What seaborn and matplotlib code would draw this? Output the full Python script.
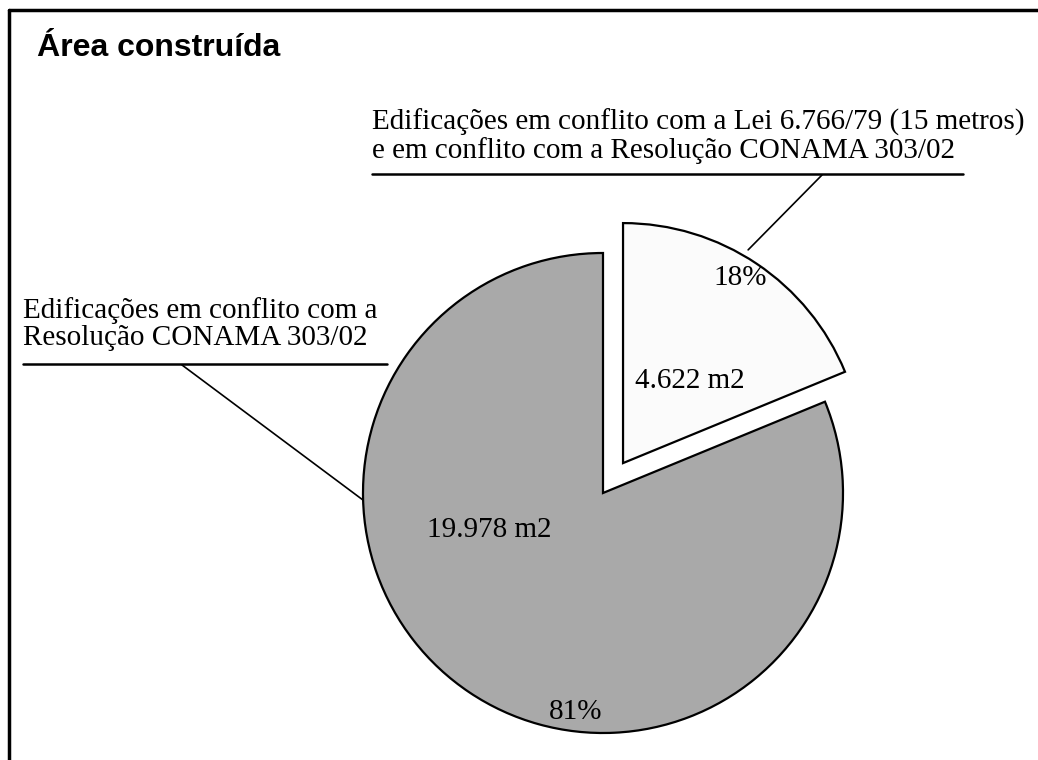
import numpy as np
import seaborn as sns
import matplotlib.pyplot as plt
from matplotlib.lines import Line2D

sns.set_theme(style='white')

# data
labels = ['Edificações em conflito com a Lei 6.766/79 (15 metros)\ne em conflito com a Resolução CONAMA 303/02',
          'Edificações em conflito com a\nResolução CONAMA 303/02']
areas = [4622, 19978]
area_text = ['4.622 m2', '19.978 m2']
pct_text = ['18%', '81%']
colors = ['#fbfbfb', '#a9a9a9']
explode = [0.15, 0]

W, H = 1038, 760
fig = plt.figure(figsize=(W / 100, H / 100), dpi=100)
ax = fig.add_axes([0, 0, 1, 1])

# pie centre / radius in pixels, so annotations can be placed by pixel
cx, cy, R = 603, 493, 240


def px(x, y):
    return ((x - cx) / R, (cy - y) / R)


wedges, _ = ax.pie(areas, colors=colors, explode=explode, startangle=90,
                   counterclock=False, radius=1,
                   wedgeprops=dict(edgecolor='black', linewidth=1.6))

ax.set_xlim(px(0, 0)[0], px(W, 0)[0])
ax.set_ylim(px(0, H)[1], px(0, 0)[1])
ax.set_aspect('equal')
ax.axis('off')


def polar(wedge, r, ang):
    c = wedge.center
    a = np.deg2rad(ang)
    return (c[0] + r * np.cos(a), c[1] + r * np.sin(a))


serif = 'Liberation Serif'
fs = 21
tk = dict(family=serif, fontsize=fs, color='black')

# labels inside the slices
ax.text(*polar(wedges[0], 0.91, 57.7), pct_text[0], ha='center', va='center', **tk)
ax.text(*polar(wedges[0], 0.44, 51), area_text[0], ha='center', va='center', **tk)
ax.text(*polar(wedges[1], 0.50, 198), area_text[1], ha='center', va='center', **tk)
ax.text(*polar(wedges[1], 0.92, 263), pct_text[1], ha='center', va='center', **tk)

# callout labels with underline and leader line
ax.text(*px(372, 158), labels[0], ha='left', va='baseline', linespacing=1.05, **tk)
ax.plot(*zip(px(372, 174), px(963, 174)), color='black', lw=1.8)
ax.plot(*zip(px(822, 175), polar(wedges[0], 1.03, 59.6)), color='black', lw=1.2)

ax.text(*px(23, 345), labels[1], ha='left', va='baseline', linespacing=1.05, **tk)
ax.plot(*zip(px(23, 364), px(387, 364)), color='black', lw=1.8)
ax.plot(*zip(px(182, 365), polar(wedges[1], 1.0, 181.7)), color='black', lw=1.2)

# title
ax.text(*px(37, 56), 'Área construída', family='Liberation Sans', fontweight='bold',
        fontsize=23, color='black', ha='left', va='baseline')

# frame (top and left edges)
fig.add_artist(Line2D([9 / W, 1], [1 - 10 / H, 1 - 10 / H], color='black', lw=2.5))
fig.add_artist(Line2D([9 / W, 9 / W], [0, 1 - 10 / H], color='black', lw=2.5))

fig.savefig('out.png', dpi=100, facecolor='white')
